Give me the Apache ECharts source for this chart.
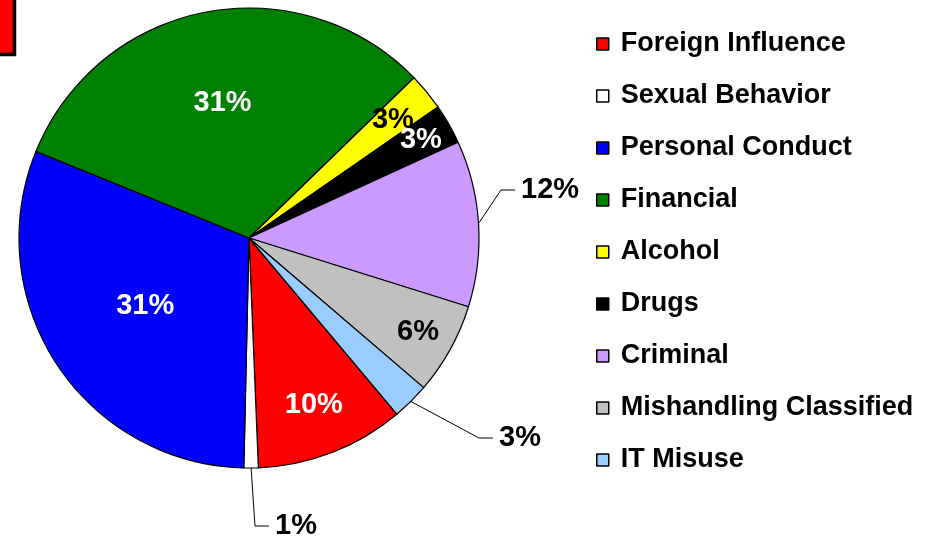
<!DOCTYPE html>
<html>
<head>
<meta charset="utf-8">
<script src="https://cdn.jsdelivr.net/npm/echarts@6/dist/echarts.min.js"></script>
<style>
  html, body { margin: 0; padding: 0; background: #fff; }
  #chart { width: 951px; height: 540px; }
</style>
</head>
<body>
<div id="chart"></div>
<script>
const categories = ['Foreign Influence', 'Sexual Behavior', 'Personal Conduct', 'Financial', 'Alcohol', 'Drugs', 'Criminal', 'Mishandling Classified', 'IT Misuse'];
const shares = [10.4, 1.0, 30.6, 31.4, 2.6, 2.8, 11.6, 6.4, 2.6];
const colors = ['#FF0000', '#FFFFFF', '#0000FF', '#008000', '#FFFF00', '#000000', '#CC99FF', '#C0C0C0', '#99CCFF'];

// label look per slice: inside labels get a radial fraction, outside ones a spot
const labelColors = ['#fff', '#000', '#fff', '#fff', '#000', '#fff', '#000', '#000', '#000'];
const insideDepth = [0.78, null, 0.54, 0.6, 0.81, 0.86, null, 0.84, null];
const outsideSpot = { 1: [275, 526], 6: [521, 190], 8: [499, 438] };

const cx = 249, cy = 238, r = 230;

const chart = echarts.init(document.getElementById('chart'));

const option = {
  animation: false,
  color: colors,
  legend: {
    orient: 'vertical',
    left: 591,
    top: 24,
    itemWidth: 12,
    itemHeight: 12,
    itemGap: 22,
    icon: 'rect',
    itemStyle: { borderColor: '#000', borderWidth: 1.5 },
    textStyle: {
      fontFamily: 'Liberation Sans, Arial, sans-serif',
      fontWeight: 'bold',
      fontSize: 27,
      lineHeight: 30,
      color: '#000',
      padding: [0, 0, 0, 7]
    },
    data: categories
  },
  graphic: [{
    type: 'rect',
    shape: { x: -10, y: -10, width: 24.5, height: 64.5 },
    style: { fill: '#FF0000', stroke: '#000', lineWidth: 3.5 }
  }],
  series: [{
    type: 'pie',
    center: [cx, cy],
    radius: r,
    startAngle: -50,
    clockwise: true,
    avoidLabelOverlap: false,
    itemStyle: { borderColor: '#000', borderWidth: 1.2 },
    label: {
      fontFamily: 'Liberation Sans, Arial, sans-serif',
      fontWeight: 'bold',
      fontSize: 29,
      formatter: p => Math.round(p.value) + '%'
    },
    labelLine: {
      show: true,
      length: 12,
      length2: 14,
      smooth: false,
      lineStyle: { color: '#000', width: 1 }
    },
    labelLayout: function (p) {
      const i = p.dataIndex;
      const lr = p.labelRect;
      if (insideDepth[i] != null) {
        const mx = lr.x + lr.width / 2 - cx;
        const my = lr.y + lr.height / 2 - cy;
        const d = Math.sqrt(mx * mx + my * my);
        const k = insideDepth[i] * r / d;
        return { x: cx + mx * k, y: cy + my * k, align: 'center', verticalAlign: 'middle' };
      }
      const s = outsideSpot[i];
      const a = p.labelLinePoints[0];
      return {
        x: s[0], y: s[1], align: 'left', verticalAlign: 'middle',
        labelLinePoints: [[a[0], a[1]], [s[0] - 20, s[1]], [s[0] - 6, s[1]]]
      };
    },
    data: categories.map((name, i) => ({
      name: name,
      value: shares[i],
      label: {
        position: insideDepth[i] != null ? 'inside' : 'outside',
        color: labelColors[i]
      },
      labelLine: { show: insideDepth[i] == null }
    }))
  }]
};

chart.setOption(option);
</script>
</body>
</html>
